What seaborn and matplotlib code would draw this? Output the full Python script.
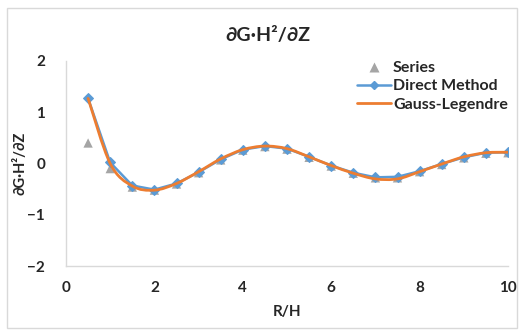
import numpy as np
import pandas as pd
import matplotlib
matplotlib.use("Agg")
import matplotlib.pyplot as plt
from matplotlib.path import Path
from matplotlib.patches import PathPatch, Rectangle
from matplotlib.lines import Line2D
import seaborn as sns

# Data
r_over_h = [0.5, 1.0, 1.5, 2.0, 2.5, 3.0, 3.5, 4.0, 4.5, 5.0,
            5.5, 6.0, 6.5, 7.0, 7.5, 8.0, 8.5, 9.0, 9.5, 10.0]
series_vals = [0.40, -0.10, -0.46, -0.52, -0.40, -0.18, 0.07, 0.26, 0.33, 0.28,
               0.12, -0.05, -0.19, -0.28, -0.28, -0.16, -0.02, 0.11, 0.20, 0.21]
direct_vals = [1.27, 0.02, -0.43, -0.51, -0.39, -0.17, 0.08, 0.27, 0.34, 0.29,
               0.13, -0.04, -0.18, -0.27, -0.26, -0.15, -0.01, 0.12, 0.21, 0.22]
gauss_vals = [1.27, 0.00, -0.44, -0.52, -0.39, -0.16, 0.09, 0.27, 0.34, 0.29,
              0.13, -0.04, -0.19, -0.30, -0.30, -0.16, -0.01, 0.13, 0.21, 0.22]
x_ticks = [0, 2, 4, 6, 8, 10]
y_ticks = [-2, -1, 0, 1, 2]

BLUE = "#5B9BD5"
ORANGE = "#ED7D31"
GRAY = "#A5A5A5"
AXIS = "#D9D9D9"
TEXT = "#262626"

sns.set_theme(style="white")
plt.rcParams["font.family"] = ["Lato", "DejaVu Sans"]
plt.rcParams["font.weight"] = "bold"

df = pd.DataFrame({"x": r_over_h, "series": series_vals,
                   "direct": direct_vals, "gauss": gauss_vals})

fig = plt.figure(figsize=(5.23, 3.30), dpi=100)
ax = fig.add_axes([66 / 523, 1 - 266 / 330, (508 - 66) / 523, (266 - 61) / 330])

# Series: grey triangles
sns.scatterplot(data=df, x="x", y="series", ax=ax, marker="^", s=45,
                color=GRAY, edgecolor="none", zorder=2, legend=False)
# Direct Method: blue line with diamond markers
sns.lineplot(data=df, x="x", y="direct", ax=ax, color=BLUE, linewidth=1.8,
             marker="D", markersize=5, markeredgecolor=BLUE, zorder=3,
             legend=False)


def smooth_path(xs, ys, tension=1 / 6):
    """Cubic Bezier path through the points (Catmull-Rom style smoothing)."""
    xs = np.asarray(xs, float)
    ys = np.asarray(ys, float)
    px = np.concatenate([[xs[0]], xs, [xs[-1]]])
    py = np.concatenate([[ys[0]], ys, [ys[-1]]])
    verts = [(xs[0], ys[0])]
    codes = [Path.MOVETO]
    for i in range(1, len(px) - 2):
        c1 = (px[i] + (px[i + 1] - px[i - 1]) * tension,
              py[i] + (py[i + 1] - py[i - 1]) * tension)
        c2 = (px[i + 1] - (px[i + 2] - px[i]) * tension,
              py[i + 1] - (py[i + 2] - py[i]) * tension)
        verts += [c1, c2, (px[i + 1], py[i + 1])]
        codes += [Path.CURVE4] * 3
    return Path(verts, codes)


# Gauss-Legendre: smoothed orange line on top
ax.add_patch(PathPatch(smooth_path(df["x"], df["gauss"]), facecolor="none",
                       edgecolor=ORANGE, linewidth=2.0, zorder=4,
                       capstyle="round", joinstyle="round"))

ax.set_xlim(0, 10)
ax.set_ylim(-2, 2)
ax.set_xticks(x_ticks)
ax.set_yticks(y_ticks)
ax.tick_params(axis="both", length=0, labelsize=11, colors=TEXT)
ax.tick_params(axis="y", pad=15)
ax.tick_params(axis="x", pad=11)
for lab in ax.get_xticklabels() + ax.get_yticklabels():
    lab.set_fontweight("bold")

for side in ["top", "right"]:
    ax.spines[side].set_visible(False)
for side in ["left", "bottom"]:
    ax.spines[side].set_color(AXIS)
    ax.spines[side].set_linewidth(1.0)

ax.set_xlabel("R/H", fontsize=11, fontweight="bold", color=TEXT, labelpad=7)
ax.set_ylabel("∂G·H²/∂Z", fontsize=10.5, fontweight="bold", color=TEXT)
ax.yaxis.set_label_coords(-39 / 442, 0.5)
fig.text(268 / 523, 1 - 35 / 330, "∂G·H²/∂Z", ha="center", va="center",
         fontsize=14, fontweight="bold", color=TEXT)

handles = [
    Line2D([], [], linestyle="none", marker="^", markersize=7, color=GRAY,
           markeredgecolor="none"),
    Line2D([], [], color=BLUE, linewidth=1.8, marker="D", markersize=4),
    Line2D([], [], color=ORANGE, linewidth=2.0),
]
leg = ax.legend(handles, ["Series", "Direct Method", "Gauss-Legendre"],
                loc="upper left", bbox_to_anchor=(357 / 523, 1 - 61 / 330),
                bbox_transform=fig.transFigure, frameon=False, fontsize=11.5,
                handlelength=2.1, handletextpad=0.15, labelspacing=0.25,
                borderaxespad=0, borderpad=0)
for t in leg.get_texts():
    t.set_fontweight("bold")
    t.set_color(TEXT)

# Chart border
fig.patches.append(Rectangle((7 / 523, 1 - 328 / 330), 510 / 523, 320 / 330,
                             transform=fig.transFigure, fill=False,
                             edgecolor=AXIS, linewidth=1.0))

fig.savefig("out.png", dpi=100)
